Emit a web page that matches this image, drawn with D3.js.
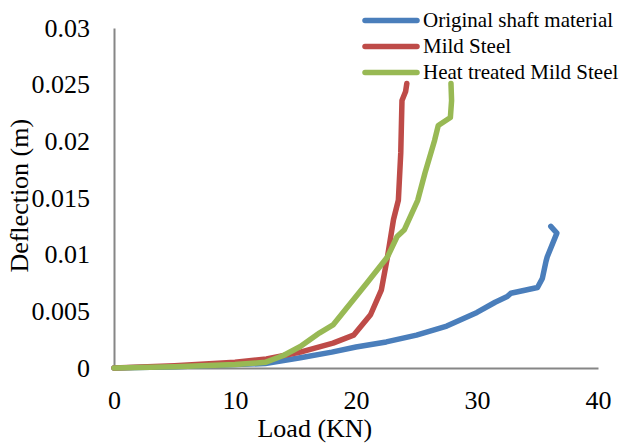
<!doctype html>
<html lang="en">
<head>
<meta charset="utf-8">
<script src="https://d3js.org/d3.v7.min.js"></script>
<style>
body { margin: 0; background: #fff; }
text { font-family: "Liberation Serif", "Times New Roman", serif; fill: #000; }
.axis path { stroke: #868686; stroke-width: 2; fill: none; }
.axis line { display: none; }
.axis text { font-size: 26px; }
.series { fill: none; stroke-width: 5.5; stroke-linejoin: round; stroke-linecap: round; }
</style>
</head>
<body>
<script>
// values
var seriesNames = ["Original shaft material", "Mild Steel", "Heat treated Mild Steel"];
var seriesColors = ["#4a7ebb", "#be4b48", "#98b954"];

var originalLoad = [0, 5, 10, 12.5, 15.4, 18, 20, 22.5, 25, 27.5, 30, 31.5, 32.5, 32.8, 35.0, 35.4, 35.7, 35.8, 36.6, 36.1];
var originalDefl = [0, 0.0001, 0.0003, 0.0004, 0.0009, 0.0014, 0.00185, 0.0023, 0.0029, 0.0037, 0.0049, 0.0058, 0.0063, 0.0066, 0.0071, 0.0079, 0.0094, 0.0098, 0.0119, 0.0125];

var mildLoad = [0, 5, 10, 12.6, 15.4, 18.1, 19.8, 21.2, 22.1, 22.6, 23.1, 23.5, 23.7, 23.8, 24.1, 24.2];
var mildDefl = [0, 0.0002, 0.0005, 0.0008, 0.0014, 0.0022, 0.0029, 0.0047, 0.0069, 0.0098, 0.0131, 0.0148, 0.019, 0.0236, 0.0244, 0.0251];

var heatLoad = [0, 5, 10, 12.5, 14, 15.4, 17.0, 18.1, 20.9, 22.6, 23.4, 24.0, 25.1, 25.7, 26.5, 26.8, 27.8, 27.9, 27.85];
var heatDefl = [0, 0.0001, 0.0003, 0.0005, 0.0011, 0.0019, 0.0031, 0.0038, 0.0075, 0.0098, 0.0116, 0.0122, 0.0148, 0.0172, 0.0201, 0.0214, 0.0221, 0.0236, 0.0251];

var xTicks = [0, 10, 20, 30, 40];
var yTicks = [0, 0.005, 0.01, 0.015, 0.02, 0.025, 0.03];

var loads = [originalLoad, mildLoad, heatLoad];
var defls = [originalDefl, mildDefl, heatDefl];

var W = 621, H = 443;
var margin = {top: 28, right: 23, bottom: 75, left: 114};
var width = W - margin.left - margin.right,
    height = H - margin.top - margin.bottom;

var svg = d3.select("body").append("svg")
    .attr("width", W)
    .attr("height", H)
  .append("g")
    .attr("transform", "translate(" + margin.left + "," + margin.top + ")");

var x = d3.scaleLinear().domain([0, 40]).range([0, width]);
var y = d3.scaleLinear().domain([0, 0.03]).range([height, 0]);

svg.append("g")
    .attr("class", "axis")
    .attr("transform", "translate(0," + height + ")")
    .call(d3.axisBottom(x).tickValues(xTicks).tickSize(0).tickSizeOuter(0).tickPadding(23).tickFormat(d3.format("d")));

svg.append("g")
    .attr("class", "axis")
    .call(d3.axisLeft(y).tickValues(yTicks).tickSize(0).tickSizeOuter(0).tickPadding(24).tickFormat(function(d) { return d === 0 ? "0" : String(+d.toFixed(3)); }));

var line = d3.line()
    .x(function(d) { return x(d[0]); })
    .y(function(d) { return y(d[1]); });

seriesNames.forEach(function(name, i) {
  var pts = d3.zip(loads[i], defls[i]);
  svg.append("path")
    .datum(pts)
    .attr("class", "series")
    .style("stroke", seriesColors[i])
    .attr("d", line);
});

// axis titles
svg.append("text")
    .attr("x", x(16.6))
    .attr("y", height + 69)
    .attr("text-anchor", "middle")
    .style("font-size", "26px")
    .text("Load (KN)");

svg.append("text")
    .attr("transform", "rotate(-90)")
    .attr("x", -(y(0.0152)))
    .attr("y", -margin.left + 28)
    .attr("text-anchor", "middle")
    .style("font-size", "26px")
    .text("Deflection (m)");

// legend
var legend = svg.append("g").attr("transform", "translate(" + (363 - margin.left) + "," + (20.5 - margin.top) + ")");
seriesNames.forEach(function(name, i) {
  var g = legend.append("g").attr("transform", "translate(0," + (i * 26) + ")");
  g.append("line").attr("x1", 2).attr("x2", 54).attr("y1", 0).attr("y2", 0)
    .style("stroke", seriesColors[i]).style("stroke-width", 5.5).style("stroke-linecap", "round");
  g.append("text").attr("x", 60).attr("y", 6.5).style("font-size", "21px").text(name);
});
</script>
</body>
</html>
